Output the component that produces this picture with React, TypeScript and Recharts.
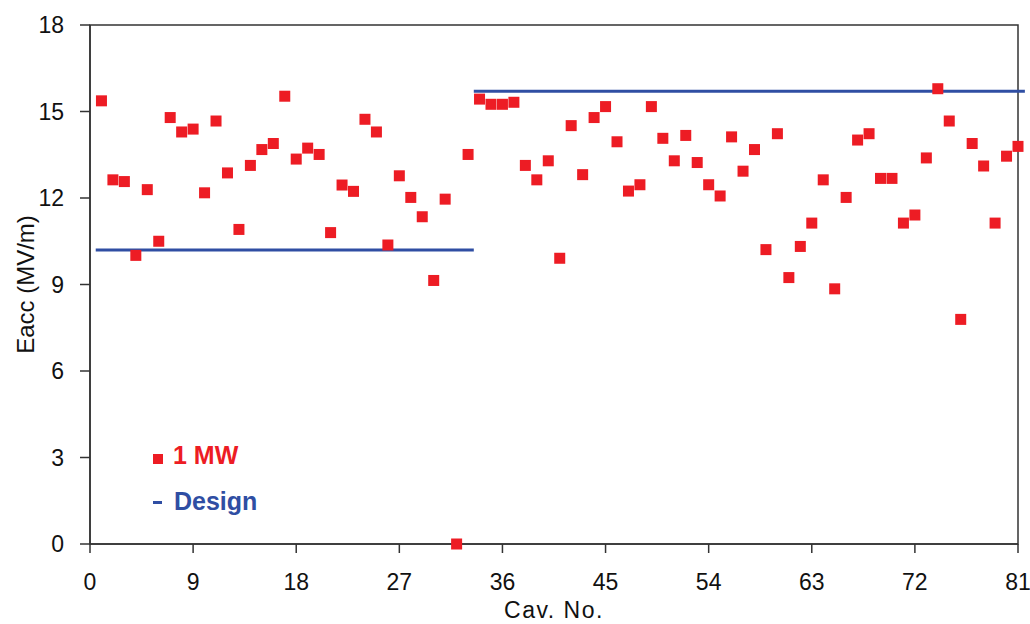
import {
  ReferenceArea,
  ReferenceLine,
  Legend,
  Scatter,
  ScatterChart,
  XAxis,
  YAxis,
} from "recharts";

// measured Eacc (MV/m) per cavity, cavity no. = position + 1
const eacc = [
  15.37, 12.63, 12.57, 10.01, 12.29, 10.5, 14.79, 14.29, 14.39, 12.18,
  14.67, 12.87, 10.91, 13.13, 13.68, 13.89, 15.53, 13.35, 13.73, 13.51,
  10.8, 12.45, 12.23, 14.73, 14.29, 10.37, 12.77, 12.02, 11.35, 9.14,
  11.96, 0, 13.51, 15.43, 15.25, 15.25, 15.32, 13.13, 12.63, 13.29,
  9.91, 14.51, 12.81, 14.79, 15.17, 13.95, 12.24, 12.46, 15.17, 14.07,
  13.29, 14.17, 13.23, 12.46, 12.07, 14.12, 12.93, 13.68, 10.21, 14.23,
  9.24, 10.32, 11.13, 12.63, 8.85, 12.02, 14.01, 14.23, 12.68, 12.68,
  11.13, 11.41, 13.39, 15.79, 14.67, 7.79, 13.89, 13.11, 11.13, 13.45,
  13.79,
];

// design gradient segments: [fromCav, toCav, value]
const designStart = [0.5, 33.5];
const designEnd = [33.5, 81.6];
const designValue = [10.2, 15.7];

const xTicks = [0, 9, 18, 27, 36, 45, 54, 63, 72, 81];
const yTicks = [0, 3, 6, 9, 12, 15, 18];

const RED = "#ed1c24";
const BLUE = "#2f4ea3";
const AXIS = "#333";
const FONT = "'Liberation Sans', Arial, sans-serif";

const points = eacc.map((v, i) => ({ cav: i + 1, eacc: v }));

function SquareDot(props: any) {
  const { cx, cy } = props;
  return <rect x={cx - 5.5} y={cy - 5.5} width={11} height={11} fill={RED} />;
}

function ChartLegend() {
  return (
    <div style={{ position: "relative", width: 140, height: 80, fontFamily: FONT }}>
      <div style={{ position: "absolute", left: 3, top: 14, width: 10, height: 10, background: RED }} />
      <div
        style={{
          position: "absolute",
          left: 23,
          top: 3,
          fontSize: 25,
          lineHeight: "25px",
          fontWeight: "bold",
          color: RED,
          whiteSpace: "nowrap",
        }}
      >
        1 MW
      </div>
      <div style={{ position: "absolute", left: 3, top: 61, width: 9, height: 3, background: BLUE }} />
      <div
        style={{
          position: "absolute",
          left: 24,
          top: 49,
          fontSize: 25,
          lineHeight: "25px",
          fontWeight: "bold",
          color: BLUE,
          whiteSpace: "nowrap",
        }}
      >
        Design
      </div>
    </div>
  );
}

export default function App() {
  return (
    <div style={{ position: "absolute", left: 0, top: 0, width: 1030, height: 624, background: "#fff" }}>
      <ScatterChart
        width={1030}
        height={624}
        margin={{ top: 25, right: 12, bottom: 0, left: 0 }}
        style={{ fontFamily: FONT }}
      >
        <XAxis
          type="number"
          dataKey="cav"
          domain={[0, 81]}
          ticks={xTicks}
          height={80}
          tickSize={9}
          tickMargin={21}
          stroke={AXIS}
          strokeWidth={1.5}
          tick={{ fill: "#111", fontSize: 23 }}
          label={{
            value: "Cav. No.",
            position: "insideBottom",
            offset: 6,
            style: { fill: "#111", fontSize: 23, letterSpacing: 1.5 },
          }}
        />
        <YAxis
          type="number"
          dataKey="eacc"
          domain={[0, 18]}
          ticks={yTicks}
          width={90}
          tickSize={10}
          tickMargin={16}
          stroke={AXIS}
          strokeWidth={1.5}
          tick={{ fill: "#111", fontSize: 23 }}
          label={{
            value: "Eacc (MV/m)",
            angle: -90,
            position: "insideLeft",
            offset: 25,
            style: { textAnchor: "middle", fill: "#111", fontSize: 24 },
          }}
        />
        <ReferenceArea
          x1={0}
          x2={81}
          y1={0}
          y2={18}
          fill="none"
          fillOpacity={0}
          stroke={AXIS}
          strokeWidth={1.5}
        />
        {designValue.map((v, i) => (
          <ReferenceLine
            key={i}
            segment={[
              { x: designStart[i], y: v },
              { x: designEnd[i], y: v },
            ]}
            stroke={BLUE}
            strokeWidth={3}
            ifOverflow="visible"
          />
        ))}
        <Scatter data={points} shape={SquareDot} isAnimationActive={false} />
        <Legend
          layout="horizontal"
          align="center"
          verticalAlign="middle"
          content={() => <ChartLegend />}
          wrapperStyle={{ left: 150, top: 440, width: 140, bottom: "auto" }}
        />
      </ScatterChart>
    </div>
  );
}
